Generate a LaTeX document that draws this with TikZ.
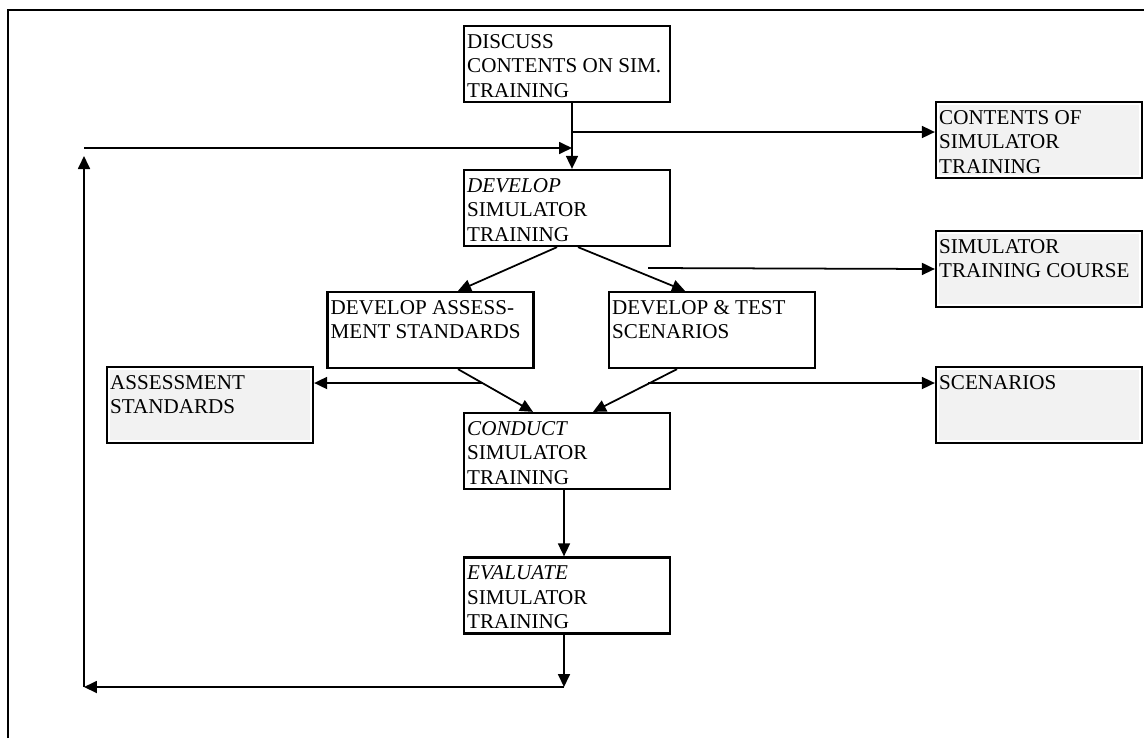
\documentclass[tikz,border=0pt]{standalone}
\usepackage{fontspec}
\setmainfont{Liberation Serif}
\usetikzlibrary{arrows.meta}
\definecolor{outfill}{HTML}{F2F2F2}
\tikzset{flow/.style={-{Triangle[length=0.26cm,width=0.24cm]},line width=1pt}}
\tikzset{task/.style={rectangle,draw,line width=1.3pt,minimum width=4.12cm,minimum height=1.52cm,inner sep=0pt}}
\tikzset{product/.style={task,fill=white,path picture={\fill[outfill] ([xshift=0.055cm,yshift=-0.055cm]path picture bounding box.north west) rectangle ([xshift=-0.055cm,yshift=0.055cm]path picture bounding box.south east);}}}
\tikzset{boxtext/.style={anchor=north west,align=left,inner xsep=0.08cm,inner ysep=0.18cm,font=\fontsize{12}{13.9}\selectfont}}

\begin{document}
\begin{tikzpicture}[x=0.02cm,y=-0.02cm]
    \useasboundingbox (0,0) rectangle (1144,738);
    \draw[line width=1.4pt] (8,738) -- (8,10) -- (1144,10);
    % main line of boxes
    \node[task,label={[boxtext]north west:{DISCUSS\\CONTENTS ON SIM.\\TRAINING}}] (discuss) at (567,64) {};
    \node[task,label={[boxtext]north west:{\textit{DEVELOP}\\SIMULATOR\\TRAINING}}] (develop) at (567,208) {};
    \node[task,label={[boxtext]north west:{DEVELOP ASSESS-\\MENT STANDARDS}}] (assess) at (430.5,330) {};
    \node[task,label={[boxtext]north west:{DEVELOP \& TEST\\SCENARIOS}}] (test) at (712,330) {};
    \node[task,label={[boxtext]north west:{\textit{CONDUCT}\\SIMULATOR\\TRAINING}}] (conduct) at (567,451) {};
    \node[task,label={[boxtext]north west:{\textit{EVALUATE}\\SIMULATOR\\TRAINING}}] (evaluate) at (567,595.5) {};
    % products
    \node[product,label={[boxtext]north west:{CONTENTS OF\\SIMULATOR\\TRAINING}}] (contents) at (1039,140) {};
    \node[product,label={[boxtext]north west:{SIMULATOR\\TRAINING COURSE}}] (course) at (1039,269) {};
    \node[product,label={[boxtext]north west:{SCENARIOS}}] (scenarios) at (1039,405) {};
    \node[product,label={[boxtext]north west:{ASSESSMENT\\STANDARDS}}] (standards) at (210,405) {};
    % connectors
    \coordinate (split) at (572,132);
    \draw[line width=1pt] (discuss.south -| split) -- (split);
    \draw[flow] (split) -- (develop.north -| split);
    \draw[flow] (split) -- (contents.west |- split);
    \coordinate (looptop) at (84,148);
    \draw[flow] (looptop) -- (looptop -| split);
    \draw[flow] ([xshift=-0.2cm]develop.south) -- ([xshift=0.55cm]assess.north);
    \draw[flow] ([xshift=0.22cm]develop.south) -- ([xshift=-0.54cm]test.north);
    \coordinate (tapcourse) at (648,268);
    \draw[flow] (tapcourse) -- (course.west);
    \draw[flow] ([xshift=0.55cm]assess.south) -- ([xshift=-0.68cm]conduct.north);
    \draw[flow] ([xshift=-0.7cm]test.south) -- ([xshift=0.52cm]conduct.north);
    \coordinate (tapstd) at (483,383);
    \draw[flow] (tapstd) -- (standards.east |- tapstd);
    \coordinate (tapscen) at (648,383);
    \draw[flow] (tapscen) -- (scenarios.west |- tapscen);
    \draw[flow] ([xshift=-0.06cm]conduct.south) -- ([xshift=-0.06cm]evaluate.north);
    % feedback loop
    \coordinate (loopcorner) at (564,687);
    \coordinate (loopleft) at (84,687);
    \draw[flow] ([xshift=-0.06cm]evaluate.south) -- (loopcorner);
    \draw[flow] (loopcorner) -- (loopleft);
    \draw[flow,shorten >=0.16cm] (loopleft) -- (looptop);
\end{tikzpicture}
\end{document}
